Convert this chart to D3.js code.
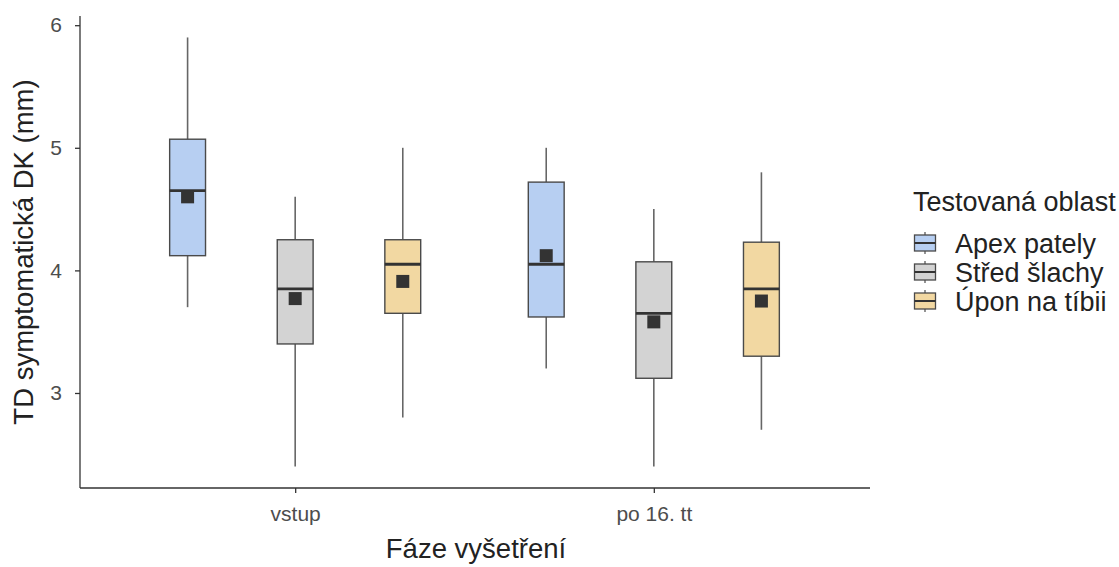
<!DOCTYPE html>
<html><head><meta charset="utf-8">
<script src="https://cdn.jsdelivr.net/npm/d3@7"></script>
<style>body{margin:0;background:#fff}text{font-family:"Liberation Sans",Arial,sans-serif}</style>
</head><body>
<svg id="c" width="1119" height="567"></svg>
<script>
const phases = ["vstup", "po 16. tt"];
const regions = ["Apex pately", "Střed šlachy", "Úpon na tíbii"];
const colors = ["#b7cff2", "#d3d3d3", "#f2d8a2"];
// per phase (rows), per region (columns)
const lowW  = [[3.70, 2.40, 2.80], [3.20, 2.40, 2.70]];
const q1    = [[4.12, 3.40, 3.65], [3.62, 3.12, 3.30]];
const med   = [[4.65, 3.85, 4.05], [4.05, 3.65, 3.85]];
const q3    = [[5.07, 4.25, 4.25], [4.72, 4.07, 4.23]];
const highW = [[5.90, 4.60, 5.00], [5.00, 4.50, 4.80]];
const means = [[4.60, 3.77, 3.91], [4.12, 3.58, 3.75]];
const yTicks = [3, 4, 5, 6];

const svg = d3.select("#c");
const L = 80, R = 869, T = 16, B = 488;
const y = d3.scaleLinear().domain([2.225, 6.075]).range([B, T]);
// discrete positions like ggplot: centers at 0.6 and 1.6 of 2.2 units
const unit = (R - L) / 2.2;
const xc = d3.scalePoint().domain(phases).range([L + 0.6 * unit, L + 1.6 * unit]);
const dodge = d3.scaleLinear().domain([0, 2]).range([-0.3 * unit, 0.3 * unit]);
const bw = 0.1 * unit;

const data = [];
phases.forEach((p, i) => regions.forEach((r, j) => data.push({
  p, j, lo: lowW[i][j], q1: q1[i][j], med: med[i][j], q3: q3[i][j], hi: highW[i][j], mean: means[i][j]
})));

const g = svg.append("g");
data.forEach(d => {
  const cx = xc(d.p) + dodge(d.j);
  g.append("line").attr("x1", cx).attr("x2", cx).attr("y1", y(d.hi)).attr("y2", y(d.q3))
    .attr("stroke", "#666").attr("stroke-width", 1.6);
  g.append("line").attr("x1", cx).attr("x2", cx).attr("y1", y(d.q1)).attr("y2", y(d.lo))
    .attr("stroke", "#666").attr("stroke-width", 1.6);
  g.append("rect").attr("x", cx - bw/2).attr("y", y(d.q3)).attr("width", bw).attr("height", y(d.q1) - y(d.q3))
    .attr("fill", colors[d.j]).attr("stroke", "#4a4a4a").attr("stroke-width", 1.4);
  g.append("line").attr("x1", cx - bw/2).attr("x2", cx + bw/2).attr("y1", y(d.med)).attr("y2", y(d.med))
    .attr("stroke", "#333").attr("stroke-width", 2.8);
  g.append("rect").attr("x", cx - 6.5).attr("y", y(d.mean) - 6.5).attr("width", 13).attr("height", 13)
    .attr("fill", "#333");
});

// axes
const ya = svg.append("g").attr("transform", `translate(${L},0)`)
  .call(d3.axisLeft(y).tickValues(yTicks).tickSize(5).tickPadding(13).tickFormat(d3.format("d")));
const xa = svg.append("g").attr("transform", `translate(0,${B})`)
  .call(d3.axisBottom(xc).tickSize(5).tickPadding(13));
[ya, xa].forEach(a => {
  a.attr("font-size", null).attr("font-family", null);
  a.select(".domain").attr("stroke", "#333").attr("stroke-width", 1.3);
  a.selectAll(".tick line").attr("stroke", "#333").attr("stroke-width", 1.3);
  a.selectAll(".tick text").attr("fill", "#4d4d4d").style("font-size", "21px");
});
ya.select(".domain").attr("d", `M0,${T}V${B}`);
xa.select(".domain").attr("d", `M${L},0H${R+1}`);

svg.append("text").attr("x", 476).attr("y", 558).attr("text-anchor", "middle")
  .style("font-size", "27.5px").attr("fill", "#222").text("Fáze vyšetření");
svg.append("text").attr("transform", `translate(33,${(T+B)/2}) rotate(-90)`).attr("text-anchor", "middle")
  .style("font-size", "27.5px").attr("fill", "#222").text("TD symptomatická DK (mm)");

// legend
const lg = svg.append("g");
lg.append("text").attr("x", 913).attr("y", 211).style("font-size", "27px").attr("fill", "#222").text("Testovaná oblast");
regions.forEach((r, j) => {
  const cy = 243 + j * 29;
  const kx = 925;
  lg.append("line").attr("x1", kx).attr("x2", kx).attr("y1", cy - 11).attr("y2", cy + 11).attr("stroke", "#666").attr("stroke-width", 1.4);
  lg.append("rect").attr("x", 914.5).attr("y", cy - 8).attr("width", 21).attr("height", 16)
    .attr("fill", colors[j]).attr("stroke", "#4a4a4a").attr("stroke-width", 1.3);
  lg.append("line").attr("x1", 914.5).attr("x2", 935.5).attr("y1", cy).attr("y2", cy).attr("stroke", "#333").attr("stroke-width", 2);
  lg.append("text").attr("x", 955).attr("y", cy + 10).style("font-size", "27px").attr("fill", "#222").text(r);
});
</script>
</body></html>
